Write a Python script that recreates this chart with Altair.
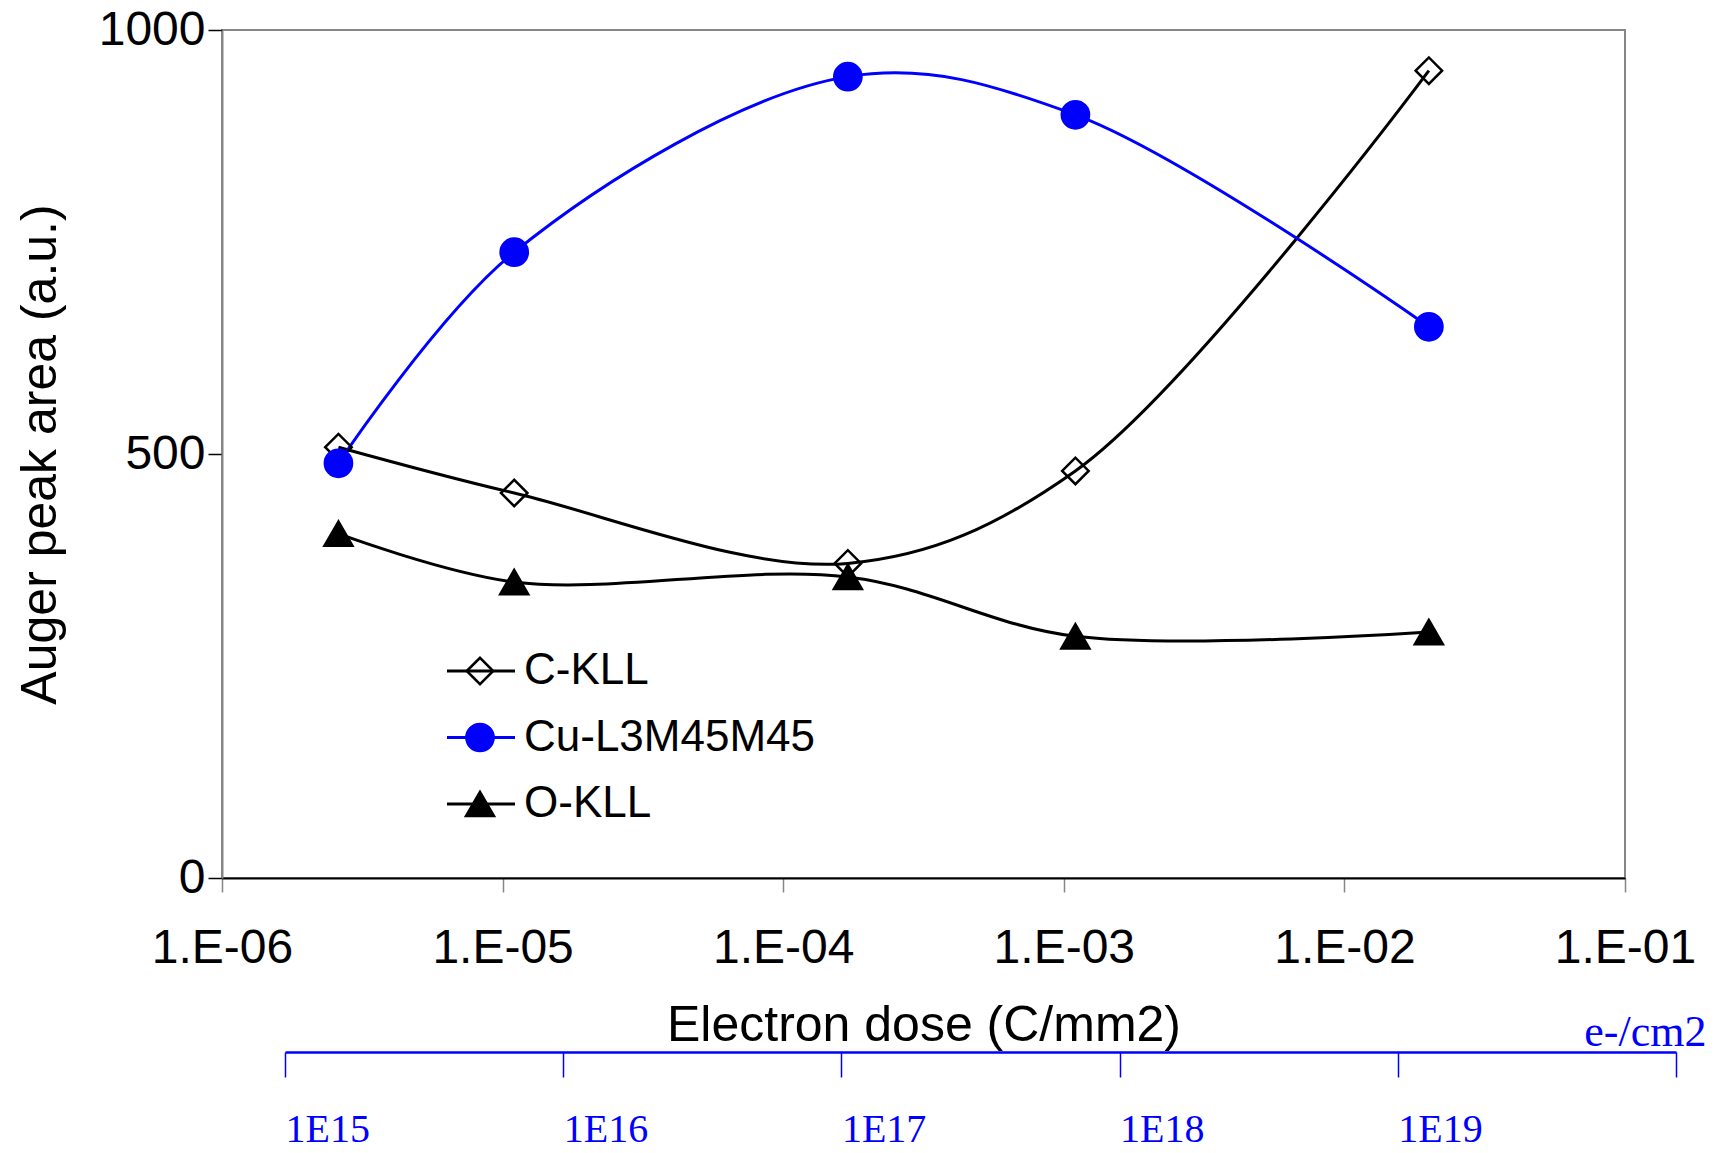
import altair as alt
import pandas as pd

# ---- data ----
series = ["C-KLL", "Cu-L3M45M45", "O-KLL"]
dose = [2.6e-6, 1.1e-5, 1.7e-4, 1.1e-3, 2.0e-2]          # C/mm2
c_kll = [508, 454, 371, 480, 952]
cu_lmm = [489, 738, 945, 900, 650]
o_kll = [406, 349, 355, 285, 290]
x_ticks = [1e-6, 1e-5, 1e-4, 1e-3, 1e-2, 1e-1]
y_ticks = [0, 500, 1000]
ecm2_ticks = [1e15, 1e16, 1e17, 1e18, 1e19, 1e20]      # e-/cm2

# ---- styles ----
BLUE = "#0000ff"
stroke_colors = ["black", BLUE, "black"]
fill_colors = ["transparent", BLUE, "black"]
shapes = ["diamond", "circle", "triangle-up"]
sizes = [700, 784, 840]
SANS = "Liberation Sans"
SERIF = "Liberation Serif"

rows = []
for name, vals in zip(series, [c_kll, cu_lmm, o_kll]):
    for d, v in zip(dose, vals):
        rows.append({"series": name, "dose": d, "area": v})
df = pd.DataFrame(rows)

W, H = 1403, 848

stroke_enc = alt.Stroke("series:N", scale=alt.Scale(domain=series, range=stroke_colors), legend=None)
fill_enc = alt.Fill("series:N", scale=alt.Scale(domain=series, range=fill_colors), legend=None)
shape_enc = alt.Shape("series:N", scale=alt.Scale(domain=series, range=shapes), legend=None)
size_enc = alt.Size("series:N", scale=alt.Scale(domain=series, range=sizes), legend=None)

x_axis = alt.Axis(
    values=x_ticks,
    labelExpr="'1.E-0' + format(-log(datum.value)/LN10, '.0f')",
    labelFont=SANS, labelFontSize=48, labelColor="black",
    labelBaseline="middle", labelPadding=56, labelFlush=False, labelOverlap=False,
    tickSize=14, tickColor="#868686", tickWidth=1.5,
    domainColor="black", domainWidth=2, grid=False,
    title="Electron dose (C/mm2)", titleFont=SANS, titleFontSize=50,
    titleFontWeight="normal", titleColor="black",
    titleY=147, titleBaseline="middle",
)
y_axis = alt.Axis(
    values=y_ticks, format="d",
    labelFont=SANS, labelFontSize=48, labelColor="black",
    labelPadding=3, labelFlush=False, labelOverlap=False,
    tickSize=14, tickColor="black", tickWidth=1.5,
    domainColor="#868686", domainWidth=2, grid=False,
    title="Auger peak area (a.u.)", titleFont=SANS, titleFontSize=50,
    titleFontWeight="normal", titleColor="black",
    titleX=-182, titleY=H / 2, titleAlign="center", titleBaseline="middle", titleAngle=-90,
)

base = alt.Chart(df)
lines = base.mark_line(interpolate="catmull-rom", strokeWidth=3).encode(
    x=alt.X("dose:Q", scale=alt.Scale(type="log", domain=[1e-6, 1e-1]), axis=x_axis),
    y=alt.Y("area:Q", scale=alt.Scale(domain=[0, 1000]), axis=y_axis),
    stroke=stroke_enc,
)
points = base.mark_point(filled=False, opacity=1, strokeWidth=2.5).encode(
    x="dose:Q", y="area:Q",
    stroke=stroke_enc, fill=fill_enc, shape=shape_enc, size=size_enc,
)
main = alt.layer(lines, points)

# ---- secondary e-/cm2 axis below the plot ----
sec_df = pd.DataFrame({"ecm2": ecm2_ticks})
sec = alt.Chart(sec_df).mark_point(opacity=0).encode(
    x=alt.X(
        "ecm2:Q",
        scale=alt.Scale(type="log", domain=[1e15, 1e20], range=[63, 1454], nice=False),
        axis=alt.Axis(
            orient="bottom", offset=174, values=ecm2_ticks,
            labelExpr="datum.value >= 1e20 ? '' : '1E' + format(log(datum.value)/LN10, '.0f')",
            labelFont=SERIF, labelFontSize=40, labelColor=BLUE,
            labelAlign="left", labelBaseline="middle", labelPadding=52,
            labelFlush=False, labelOverlap=False,
            tickSize=25, tickColor=BLUE, tickWidth=1.5,
            domainColor=BLUE, domainWidth=2.5, grid=False,
            title="e-/cm2", titleFont=SERIF, titleFontSize=44, titleFontWeight="normal",
            titleColor=BLUE, titleX=1484, titleY=-20, titleAlign="right",
            titleBaseline="middle", titleAngle=0,
        ),
    ),
    y=alt.value(0),
)

# ---- legend drawn inside the plot ----
leg_df = pd.DataFrame({"series": series})
leg_y = alt.Y("series:N", sort=series,
              scale=alt.Scale(type="point", domain=series, range=[641, 774], padding=0),
              axis=None)
leg_base = alt.Chart(leg_df)
leg_rule = leg_base.mark_rule(strokeWidth=3).encode(
    y=leg_y, x=alt.value(225), x2=alt.value(293), stroke=stroke_enc,
)
leg_pt = leg_base.mark_point(filled=False, opacity=1, strokeWidth=2.5).encode(
    y=leg_y, x=alt.value(258),
    stroke=stroke_enc, fill=fill_enc, shape=shape_enc, size=size_enc,
)
leg_txt = leg_base.mark_text(align="left", baseline="middle", font=SANS,
                             fontSize=44, color="black").encode(
    y=leg_y, x=alt.value(302), text="series:N",
)
legend = alt.layer(leg_rule, leg_pt, leg_txt)

chart = alt.layer(main, sec, legend).resolve_scale(
    x="independent", y="independent"
).properties(
    width=W, height=H,
    autosize=alt.AutoSizeParams(type="none"),
    padding={"left": 222, "top": 30, "right": 93, "bottom": 275},
    background="white",
).configure_view(stroke="#868686", strokeWidth=2)

chart.save("out.html", embed_options={"renderer": "svg", "actions": False})
